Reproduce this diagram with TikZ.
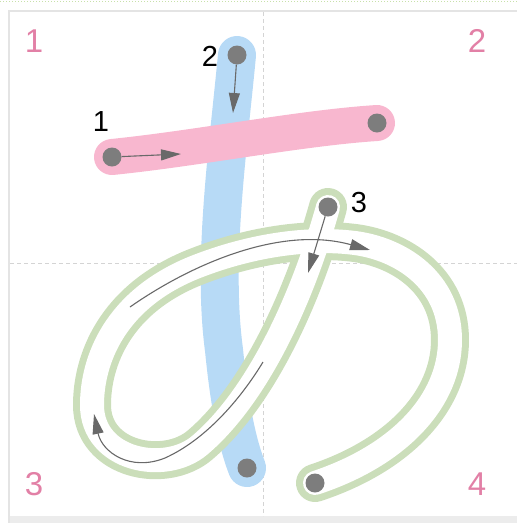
\documentclass[tikz,border=0pt]{standalone}
\usepackage{fontspec}
\setmainfont{Liberation Sans}
\usetikzlibrary{arrows.meta}
\definecolor{pinkstroke}{RGB}{248,183,207}
\definecolor{bluestroke}{RGB}{183,218,246}
\definecolor{greenline}{RGB}{203,222,186}
\definecolor{dotgray}{RGB}{125,125,125}
\definecolor{arrowgray}{RGB}{105,105,105}
\definecolor{cornerpink}{RGB}{226,128,166}
\definecolor{framegray}{RGB}{228,228,228}
\definecolor{guidegray}{RGB}{212,212,212}
\definecolor{topdots}{RGB}{200,225,170}
\newcommand\greenstroke{(328,207) .. controls (305,290) and (261,393) .. (200,445) .. controls (165,475) and (92,460) .. (92,405) .. controls (92,360) and (115,300) .. (193,268) .. controls (240,249) and (300,236) .. (355,243) .. controls (400,249) and (450,280) .. (450,340) .. controls (450,400) and (400,455) .. (315,483)}
\begin{document}
\begin{tikzpicture}[x=1pt,y=-1pt,
  dot/.style={circle,fill=dotgray,inner sep=0pt,minimum size=19pt},
  thinarrow/.style={draw=arrowgray,line width=1.1pt,-{Triangle[length=20pt,width=11pt]}},
  numlabel/.style={font=\fontsize{29}{29}\selectfont,text=black,inner sep=0pt},
  cornernum/.style={font=\fontsize{33}{33}\selectfont,text=cornerpink,inner sep=0pt},
  guide/.style={draw=guidegray,line width=0.8pt,dash pattern=on 4pt off 3pt}]
\useasboundingbox (0,0) rectangle (517,523);
% frame
\draw[topdots,dotted,line width=1pt] (0,1) -- (517,1);
\fill[framegray!70] (9,516) rectangle (517,523);
\draw[framegray,line width=2pt] (517,11) -- (9,11) -- (9,523);
% guides
\coordinate (gt) at (263,12);
\coordinate (gb) at (263,516);
\coordinate (gl) at (10,263);
\coordinate (gr) at (517,263);
\draw[guide] (gt) -- (gb);
\draw[guide] (gl) -- (gr);
% stroke 2 (blue)
\draw[bluestroke,line width=38pt,line cap=round] (237,55) .. controls (228,150) and (212,260) .. (224,350) .. controls (230,410) and (238,445) .. (247,468);
% stroke 1 (pink)
\draw[pinkstroke,line width=36pt,line cap=round] (112,157) .. controls (200,148) and (300,128) .. (377,123);
% stroke 3 (green outline)
\draw[greenline,line width=38pt,line cap=round,line join=round] \greenstroke;
\draw[white,line width=24pt,line cap=round,line join=round] \greenstroke;
% dots
\node[dot] (d1) at (112,157) {};
\node[dot] (e1) at (377,123) {};
\node[dot] (d2) at (237,55) {};
\node[dot] (e2) at (247,468) {};
\node[dot] (d3) at (328,207) {};
\node[dot] (e3) at (315,483) {};
% direction arrows
\coordinate (a1) at (181,154);
\coordinate (a2) at (233,113);
\coordinate (a3) at (308,273);
\coordinate (t1) at (130,307);
\coordinate (t2) at (370,250);
\coordinate (b1) at (263,362);
\coordinate (b2) at (94,414);
\draw[thinarrow] (d1) -- (a1);
\draw[thinarrow] (d2) -- (a2);
\draw[thinarrow] (d3) -- (a3);
\draw[thinarrow] (t1) .. controls (190,265) and (280,225) .. (t2);
\draw[thinarrow] (b1) .. controls (240,400) and (205,440) .. (165,458) .. controls (130,472) and (102,452) .. (b2);
% stroke numbers
\node[numlabel] (n1) at (101,122) {1};
\node[numlabel] (n2) at (210,56) {2};
\node[numlabel] (n3) at (359,203) {3};
% corner numbers
\node[cornernum] (c1) at (34,41) {1};
\node[cornernum] (c2) at (477,41) {2};
\node[cornernum] (c3) at (34,484) {3};
\node[cornernum] (c4) at (477,484) {4};
\end{tikzpicture}
\end{document}
